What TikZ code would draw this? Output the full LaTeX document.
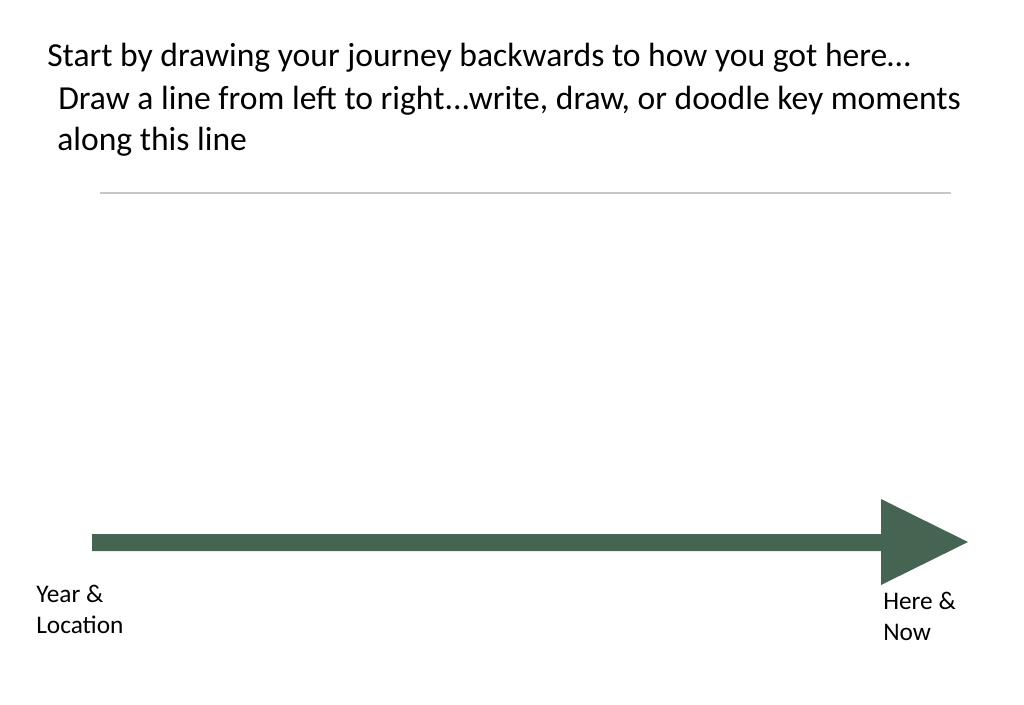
\documentclass[tikz,border=0pt]{standalone}
\usepackage{fontspec}
\setmainfont{Carlito}
\definecolor{arrowgreen}{RGB}{70,100,82}
\definecolor{rulegray}{RGB}{200,200,200}
\begin{document}
\begin{tikzpicture}[x=0.75pt, y=-0.75pt]

		\useasboundingbox (0,0) rectangle (1024,704);

		\node[anchor=base west, inner sep=0pt, font=\fontsize{25.2}{30}\selectfont](lineOne) at (47,66){Start by drawing your journey backwards to how you got here\ldots};
		\node[anchor=base west, inner sep=0pt, font=\fontsize{25.2}{30}\selectfont](lineTwo) at (58,109){Draw a line from left to right...write, draw, or doodle key moments};
		\node[anchor=base west, inner sep=0pt, font=\fontsize{25.2}{30}\selectfont](lineThree) at (57,150){along this line};

		\draw [line width=1.5pt, color=rulegray] (100,193) -- (951,193);

		\fill [color=arrowgreen] (92,534) -- (881,534) -- (881,499) -- (968,542) -- (881,585) -- (881,551) -- (92,551) -- cycle;

		\node[anchor=base west, inner sep=0pt, align=left, font=\fontsize{19}{23.25}\selectfont](startLabel) at (36,633){Year \&\\Location};
		\node[anchor=base west, inner sep=0pt, align=left, font=\fontsize{19}{23.25}\selectfont](endLabel) at (883,640){Here \&\\Now};

	\end{tikzpicture}
\end{document}
